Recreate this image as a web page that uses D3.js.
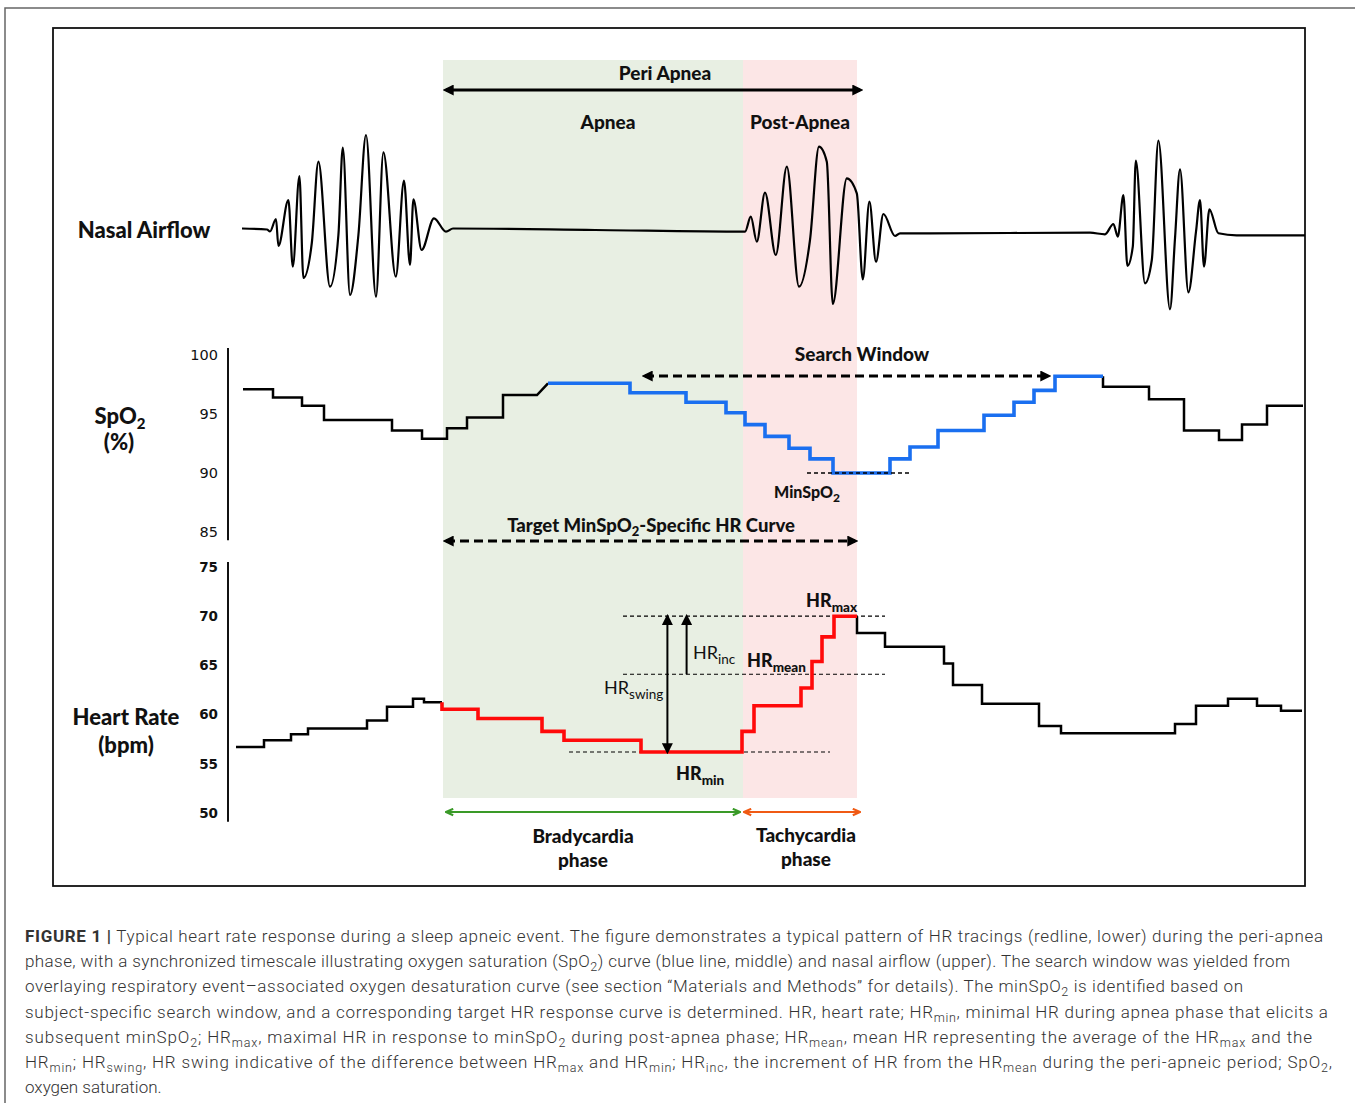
<!DOCTYPE html>
<html>
<head>
<meta charset="utf-8">
<script src="https://cdn.jsdelivr.net/npm/d3@7"></script>
<style>
  body { margin: 0; background: #fff; }
  svg text { font-family: Lato, "Open Sans", sans-serif; fill: #111; }
</style>
</head>
<body>
<div id="chart"></div>
<script>
// Shared time axis (seconds). Apnea start, apnea end / post-apnea start, post-apnea end
const phases = [104, 254, 311];

// Nasal airflow trace: [time, amplitude]
const airflow = [
  [3.5, 1.5], [16, 0.5], [17.5, -1.5], [20.5, 11], [21.7, -16], [26.7, 30], [28.9, -36.7],
  [32.2, 54], [34.2, -48], [38.4, -13], [41.7, 68.3], [47.5, -56.7], [51.7, -5], [53.9, 82.3],
  [57.5, -65], [61.7, -5], [65.5, 95], [70.5, -66.7], [74.2, 77.7], [80.4, -46.7], [84.5, 49.3],
  [87.5, -35], [89.2, 30.7], [93.3, -20], [99.5, 11.7], [105.5, -1.7], [109, 1.5], [180, 0],
  [255, -1.7], [257.9, 13.3], [260.9, -11.7], [265, 37.3], [270.4, -25], [275.9, 63.3],
  [282, -56.7], [287.5, -10], [292, 83.3], [295.9, 68.3], [298.9, -74], [305.9, 51.7],
  [310.9, 36.7], [313.9, -49.3], [317.2, 28.3], [320.5, -31.7], [324.2, 16], [330, -6],
  [332.5, -3.3], [347.5, -3.3], [427.5, -2.7], [435, -4.3], [439.2, 6], [441.4, -6.7],
  [444.2, 35], [446.2, -36], [448.9, -16.7], [450.4, 69.3], [455, -53.3], [458.4, -30],
  [461.7, 89.3], [467.5, -79.3], [470, -8.3], [472.5, 60.7], [476.7, -62.3], [480.5, -1.7],
  [482.5, 30], [484.5, -36.7], [487.2, 20.7], [491.7, -3.3], [500.8, -5.3], [535, -5.3]
];

// SpO2 step levels: [from, to, value %]
const spo2Levels = [
  [4, 19, 97.1], [19, 33.5, 96.4], [33.5, 44.5, 95.7], [44.5, 78.5, 94.5], [78.5, 93.5, 93.6],
  [93.5, 106, 92.9], [106, 116, 93.8], [116, 134, 94.7], [134, 151, 96.6],
  [156.5, 197.5, 97.6], [197.5, 225.5, 96.8], [225.5, 245.5, 96.0], [245.5, 255, 95.1],
  [255, 265, 94.1], [265, 277, 93.1], [277, 287.5, 92.1], [287.5, 299, 91.2], [299, 327.5, 90.0],
  [327.5, 337.5, 91.2], [337.5, 351.5, 92.2], [351.5, 374.5, 93.6], [374.5, 389.5, 94.9],
  [389.5, 399.5, 96.0], [399.5, 410, 97.0], [410, 434, 98.2],
  [434, 457, 97.3], [457, 474.5, 96.25], [474.5, 492, 93.6], [492, 503.5, 92.8],
  [503.5, 516, 94.1], [516, 534, 95.7]
];
const spo2Search = [9, 24]; // indices of the blue (search window) levels

// Heart rate step levels: [from, to, bpm]
const hrLevels = [
  [0.5, 14.5, 56.7], [14.5, 28, 57.4], [28, 36.5, 58.0], [36.5, 66, 58.6], [66, 76, 59.4],
  [76, 89, 60.8], [89, 94.5, 61.6], [94.5, 103.5, 61.25],
  [103.5, 121.5, 60.55], [121.5, 153.5, 59.6], [153.5, 164.5, 58.3], [164.5, 203, 57.4],
  [203, 253.5, 56.2], [253.5, 259.5, 58.3], [259.5, 283, 60.9], [283, 288.5, 62.7],
  [288.5, 293.5, 65.4], [293.5, 299.5, 67.9], [299.5, 311, 70.0],
  [311, 325, 68.3], [325, 354.5, 66.9], [354.5, 359, 65.2], [359, 373.5, 63.0],
  [373.5, 402, 61.1], [402, 413, 58.85], [413, 470, 58.1], [470, 480.5, 59.05],
  [480.5, 496.5, 60.9], [496.5, 511, 61.6], [511, 523, 60.9], [523, 533.5, 60.4]
];
const hrTarget = [8, 18]; // indices of the red (target curve) levels

const spo2Ticks = [100, 95, 90, 85];
const hrTicks = [75, 70, 65, 60, 55, 50];
const hrMax = 70, hrMean = 64.1, hrMin = 56.2, minSpo2 = 90.0;

const captionLines = [
  "**FIGURE 1 |** Typical heart rate response during a sleep apneic event. The figure demonstrates a typical pattern of HR tracings (redline, lower) during the peri-apnea",
  "phase, with a synchronized timescale illustrating oxygen saturation (SpO_{2}) curve (blue line, middle) and nasal airflow (upper). The search window was yielded from",
  "overlaying respiratory event\u2013associated oxygen desaturation curve (see section \u201cMaterials and Methods\u201d for details). The minSpO_{2} is identified based on",
  "subject-specific search window, and a corresponding target HR response curve is determined. HR, heart rate; HR_{min}, minimal HR during apnea phase that elicits a",
  "subsequent minSpO_{2}; HR_{max}, maximal HR in response to minSpO_{2} during post-apnea phase; HR_{mean}, mean HR representing the average of the HR_{max} and the",
  "HR_{min}; HR_{swing}, HR swing indicative of the difference between HR_{max} and HR_{min}; HR_{inc}, the increment of HR from the HR_{mean} during the peri-apneic period; SpO_{2},",
  "oxygen saturation."
];
const captionWidths = [1298, 1265, 1218, 1303, 1287, 1307, null];

// ---- setup
const W = 1355, H = 1103;
const svg = d3.select("#chart").append("svg").attr("width", W).attr("height", H);
const defs = svg.append("defs");

const x = d3.scaleLinear().domain([0, 535]).range([235, 1305]);
const yAir = d3.scaleLinear().domain([-100, 100]).range([330, 130]);
const ySpo2 = d3.scaleLinear().domain([85, 100]).range([532, 355]);
const yHr = d3.scaleLinear().domain([50, 75]).range([813, 567]);

// rich text: **bold** and _{subscript}
function rich(sel, str, subSize, subShift) {
  let shifted = false;
  str.split(/(\*\*[^*]+\*\*|_\{[^}]+\})/).filter(s => s.length).forEach(p => {
    const t = sel.append("tspan");
    if (p.startsWith("_{")) {
      t.text(p.slice(2, -1)).attr("font-size", subSize).attr("dy", subShift);
      shifted = true;
    } else {
      if (shifted) { t.attr("dy", -subShift); shifted = false; }
      if (p.startsWith("**")) t.attr("font-weight", 700).text(p.slice(2, -2));
      else t.text(p);
    }
  });
  return sel;
}

function label(px, py, str, opts = {}) {
  const t = svg.append("text")
    .attr("x", px).attr("y", py)
    .attr("text-anchor", opts.anchor || "middle")
    .attr("font-size", opts.size || 19)
    .attr("font-weight", opts.weight || 900);
  rich(t, str, opts.subSize || 13.5, opts.subShift || 5);
  return t;
}

// markers
function marker(id, color, filled) {
  const m = defs.append("marker").attr("id", id)
    .attr("viewBox", "0 0 10 10").attr("refX", filled ? 7 : 9).attr("refY", 5)
    .attr("markerWidth", filled ? 11 : 9).attr("markerHeight", filled ? 11 : 9)
    .attr("markerUnits", "userSpaceOnUse").attr("orient", "auto-start-reverse");
  m.append("path")
    .attr("d", filled ? "M0,0L10,5L0,10Z" : "M1,1.5L9,5L1,8.5")
    .attr("fill", filled ? color : "none")
    .attr("stroke", filled ? "none" : color)
    .attr("stroke-width", filled ? 0 : 2.4);
}
marker("headBlack", "#000", true);
marker("headGreen", "#3a9a28", false);
marker("headOrange", "#f05a14", false);

function arrow(x1, y1, x2, y2, o = {}) {
  const l = svg.append("line")
    .attr("x1", x1).attr("y1", y1).attr("x2", x2).attr("y2", y2)
    .attr("stroke", o.color || "#000").attr("stroke-width", o.width || 2);
  if (o.dash) l.attr("stroke-dasharray", o.dash);
  const h = `url(#${o.head || "headBlack"})`;
  if (o.start !== false) l.attr("marker-start", h);
  if (o.end !== false) l.attr("marker-end", h);
  return l;
}

// ---- frames
svg.append("rect").attr("x", 5).attr("y", 8).attr("width", 1400).attr("height", 1200)
  .attr("fill", "none").attr("stroke", "#666").attr("stroke-width", 1.5);
svg.append("rect").attr("x", 53).attr("y", 28).attr("width", 1252).attr("height", 858)
  .attr("fill", "none").attr("stroke", "#111").attr("stroke-width", 1.8);

// ---- phase shading
svg.append("rect").attr("x", x(phases[0])).attr("y", 60)
  .attr("width", x(phases[1]) - x(phases[0])).attr("height", 738).attr("fill", "#e8efe3");
svg.append("rect").attr("x", x(phases[1])).attr("y", 60)
  .attr("width", x(phases[2]) - x(phases[1])).attr("height", 738).attr("fill", "#fce6e6");

// ---- top annotations
label(x(215), 80, "Peri Apnea");
arrow(x(phases[0] + 1.5), 90, x(phases[2] + 1.5), 90, { width: 3 });
label(x(186.5), 129, "Apnea");
label(x(282.5), 129, "Post-Apnea");

// ---- nasal airflow
label(144, 238, "Nasal Airflow", { size: 22 });
svg.append("path").datum(airflow)
  .attr("fill", "none").attr("stroke", "#000").attr("stroke-width", 2.2)
  .attr("d", d3.line().x(d => x(d[0])).y(d => yAir(d[1])).curve(d3.curveMonotoneX));

// ---- step helpers
const stepPts = levels => levels.flatMap(([t0, t1, v]) => [[t0, v], [t1, v]]);
function drawStep(yScale, pts, color, width) {
  svg.append("path").datum(pts)
    .attr("fill", "none").attr("stroke", color).attr("stroke-width", width)
    .attr("stroke-linejoin", "miter")
    .attr("d", d3.line().x(d => x(d[0])).y(d => yScale(d[1])));
}

// ---- SpO2 panel
label(120, 424, "SpO_{2}", { size: 22, subSize: 15, subShift: 5 });
label(119, 450, "(%)", { size: 22 });

const spo2Axis = svg.append("g").attr("transform", "translate(228,0)")
  .call(d3.axisLeft(ySpo2).tickValues(spo2Ticks).tickSize(0).tickPadding(10));
spo2Axis.select(".domain").remove();
spo2Axis.selectAll("text").style("font-family", "'DejaVu Sans', Verdana, sans-serif")
  .style("font-size", "14.5px").style("fill", "#111");
svg.append("line").attr("x1", 228).attr("x2", 228)
  .attr("y1", ySpo2(100.6)).attr("y2", ySpo2(84.3)).attr("stroke", "#111").attr("stroke-width", 2);

const [s0, s1] = spo2Search;
drawStep(ySpo2, stepPts(spo2Levels.slice(0, s0)).concat([[spo2Levels[s0][0], spo2Levels[s0][2]]]), "#000", 2.5);
drawStep(ySpo2, [[spo2Levels[s1][1], spo2Levels[s1][2]]].concat(stepPts(spo2Levels.slice(s1 + 1))), "#000", 2.5);
drawStep(ySpo2, stepPts(spo2Levels.slice(s0, s1 + 1)), "#1a6ff0", 3.6);

// min SpO2 marker
svg.append("line").attr("x1", x(286)).attr("x2", x(338.5))
  .attr("y1", ySpo2(minSpo2)).attr("y2", ySpo2(minSpo2))
  .attr("stroke", "#000").attr("stroke-width", 1.3).attr("stroke-dasharray", "4,3");
label(x(286), 498, "MinSpO_{2}", { size: 16, subSize: 12, subShift: 4 });

// search window
label(x(313.5), 361, "Search Window");
arrow(x(205), 376, x(406.5), 376, { width: 3, dash: "9,5" });

// target curve
label(x(208), 532, "Target MinSpO_{2}-Specific HR Curve", { size: 18.5, subSize: 13, subShift: 4 });
arrow(x(phases[0] + 1.5), 541, x(phases[2] - 1), 541, { width: 3, dash: "9,5" });

// ---- heart rate panel
label(126, 725, "Heart Rate", { size: 22 });
label(126, 753, "(bpm)", { size: 22 });

const hrAxis = svg.append("g").attr("transform", "translate(228,0)")
  .call(d3.axisLeft(yHr).tickValues(hrTicks).tickSize(0).tickPadding(10));
hrAxis.select(".domain").remove();
hrAxis.selectAll("text").style("font-family", "'DejaVu Sans', Verdana, sans-serif")
  .style("font-size", "13.5px").style("font-weight", "bold").style("fill", "#111");
svg.append("line").attr("x1", 228).attr("x2", 228)
  .attr("y1", yHr(75.5)).attr("y2", yHr(49.1)).attr("stroke", "#111").attr("stroke-width", 2);

// reference lines
const dashLine = (t0, t1, v) => svg.append("line")
  .attr("x1", x(t0)).attr("x2", x(t1)).attr("y1", yHr(v)).attr("y2", yHr(v))
  .attr("stroke", "#000").attr("stroke-width", 1.2).attr("stroke-dasharray", "4,3");
dashLine(194, 325, hrMax);
dashLine(194, 325, hrMean);
dashLine(167, 297.5, hrMin);

const [h0, h1] = hrTarget;
drawStep(yHr, stepPts(hrLevels.slice(0, h0)), "#000", 2.5);
drawStep(yHr, [[hrLevels[h1][1], hrLevels[h1][2]]].concat(stepPts(hrLevels.slice(h1 + 1))), "#000", 2.5);
drawStep(yHr, [[hrLevels[h0 - 1][1], hrLevels[h0 - 1][2]]].concat(stepPts(hrLevels.slice(h0, h1 + 1))), "#ff0a0a", 3.6);

// swing / increment arrows
arrow(x(216.2), yHr(hrMax) + 1, x(216.2), yHr(hrMin) - 1, { width: 2 });
arrow(x(225.8), yHr(hrMean), x(225.8), yHr(hrMax) + 1, { width: 2, start: false });

label(x(285.5), 607, "HR_{max}", { anchor: "start", size: 18 });
label(x(256), 667, "HR_{mean}", { anchor: "start", size: 18 });
label(x(229), 659, "HR_{inc}", { anchor: "start", size: 18, weight: 400 });
label(x(184.5), 694, "HR_{swing}", { anchor: "start", size: 18, weight: 400 });
label(x(220.5), 780, "HR_{min}", { anchor: "start", size: 18 });

// ---- phase arrows
arrow(x(phases[0] + 1.5), 812, x(phases[1] - 1.5), 812, { color: "#3a9a28", width: 2, head: "headGreen" });
arrow(x(phases[1] + 0.5), 812, x(phases[2] + 1.5), 812, { color: "#f05a14", width: 2, head: "headOrange" });
label(x(174), 843, "Bradycardia");
label(x(174), 867, "phase");
label(x(285.5), 842, "Tachycardia");
label(x(285.5), 866, "phase");

// ---- caption
captionLines.forEach((line, i) => {
  const t = svg.append("text")
    .attr("x", 25).attr("y", 942 + i * 25.2)
    .style("font-family", "Roboto, 'Liberation Sans', sans-serif")
    .style("font-size", "17px").style("font-weight", 300).style("fill", "#333");
  if (captionWidths[i]) t.attr("textLength", captionWidths[i]).attr("lengthAdjust", "spacing");
  rich(t, line, "12.5px", 4);
});
</script>
</body>
</html>
